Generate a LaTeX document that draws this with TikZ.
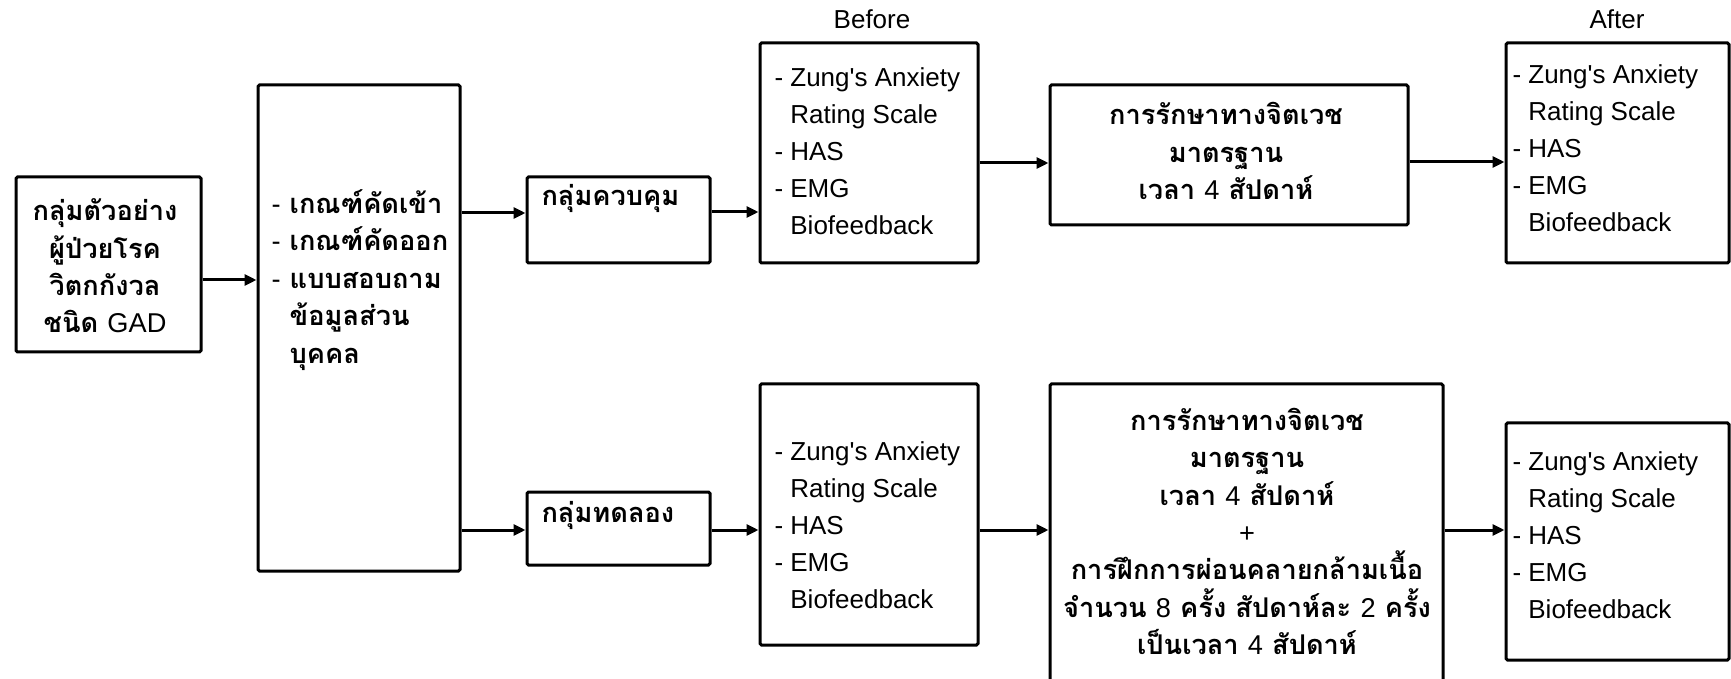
\documentclass[tikz,border=0pt]{standalone}
\usepackage{fontspec}
\setmainfont{Liberation Sans}
\newfontfamily\thaifont[Script=Thai]{Loma}
\newcommand\en[1]{{\normalfont#1}}
\usetikzlibrary{arrows.meta}
\begin{document}
\begin{tikzpicture}[x=0.5pt,y=-0.5pt,>={Triangle[length=6pt,width=5.5pt]},
  line width=1.5pt,
  box/.style={draw,rounded corners=0.8pt,inner sep=0pt},
  txt/.style={inner sep=0pt,font=\fontsize{13}{18.5}\selectfont},
  th/.style={inner sep=0pt,font=\fontsize{13.6}{18.7}\selectfont\thaifont\bfseries}]

  \path[use as bounding box,clip] (0,0) rectangle (1731,679);

  \node[box,minimum width=92.5pt,minimum height=87.5pt] (grp) at (108.5,264.5) {};
  \node[box,minimum width=101pt,minimum height=243pt] (crit) at (359,328) {};
  \node[box,minimum width=91.5pt,minimum height=43pt] (ctrl) at (618.5,220) {};
  \node[box,minimum width=91.5pt,minimum height=36.5pt] (exp) at (618.5,528.5) {};
  \node[box,minimum width=109pt,minimum height=110pt] (pre1) at (869,153) {};
  \node[box,minimum width=109pt,minimum height=130.5pt] (pre2) at (869,514.5) {};
  \node[box,minimum width=179pt,minimum height=70pt] (tx1) at (1229,155) {};
  \node[box,minimum width=196.5pt,minimum height=158pt] (tx2) at (1246.5,542) {};
  \node[box,minimum width=111.5pt,minimum height=110pt] (post1) at (1617.5,153) {};
  \node[box,minimum width=111.5pt,minimum height=118.5pt] (post2) at (1617.5,541.5) {};

  \node[txt] (before) at (872,19) {Before};
  \node[txt] (after) at (1617,19) {After};

  \node[th,align=center] (grptxt) at (105,266) {กลุ่มตัวอย่าง\\ผู้ป่วยโรค\\วิตกกังวล\\ชนิด \en{GAD}};
  \node[th,align=left,anchor=west] (crittxt) at (270,280)
    {\en{-} เกณฑ์คัดเข้า\\\en{-} เกณฑ์คัดออก\\\en{-} แบบสอบถาม\\\phantom{\en{-} }ข้อมูลส่วน\\\phantom{\en{-} }บุคคล};
  \node[th,anchor=west] (ctrltxt) at (540,198) {กลุ่มควบคุม};
  \node[th,anchor=west] (exptxt) at (540,515) {กลุ่มทดลอง};
  \node[txt,align=left,anchor=west] (pre1txt) at (773,151.5)
    {- Zung\textquotesingle s Anxiety\\\phantom{- }Rating Scale\\- HAS\\- EMG\\\phantom{- }Biofeedback};
  \node[txt,align=left,anchor=west] (pre2txt) at (773,525)
    {- Zung\textquotesingle s Anxiety\\\phantom{- }Rating Scale\\- HAS\\- EMG\\\phantom{- }Biofeedback};
  \node[txt,align=left,anchor=west] (post1txt) at (1511,148)
    {- Zung\textquotesingle s Anxiety\\\phantom{- }Rating Scale\\- HAS\\- EMG\\\phantom{- }Biofeedback};
  \node[txt,align=left,anchor=west] (post2txt) at (1511,535.5)
    {- Zung\textquotesingle s Anxiety\\\phantom{- }Rating Scale\\- HAS\\- EMG\\\phantom{- }Biofeedback};
  \node[th,align=center] (tx1txt) at (1226,151) {การรักษาทางจิตเวช\\มาตรฐาน\\เวลา \en{4} สัปดาห์};
  \node[th,align=center] (tx2txt) at (1247,531.5)
    {การรักษาทางจิตเวช\\มาตรฐาน\\เวลา \en{4} สัปดาห์\\\en{+}\\การฝึกการผ่อนคลายกล้ามเนื้อ\\จำนวน \en{8} ครั้ง สัปดาห์ละ \en{2} ครั้ง\\เป็นเวลา \en{4} สัปดาห์};

  \draw[->] (grp.east |- 0,280) -- (crit.west |- 0,280);
  \draw[->] (crit.east |- 0,213) -- (ctrl.west |- 0,213);
  \draw[->] (crit.east |- 0,530) -- (exp.west |- 0,530);
  \draw[->] (ctrl.east |- 0,212) -- (pre1.west |- 0,212);
  \draw[->] (exp.east |- 0,530) -- (pre2.west |- 0,530);
  \draw[->] (pre1.east |- 0,163) -- (tx1.west |- 0,163);
  \draw[->] (pre2.east |- 0,530) -- (tx2.west |- 0,530);
  \draw[->] (tx1.east |- 0,162) -- (post1.west |- 0,162);
  \draw[->] (tx2.east |- 0,530) -- (post2.west |- 0,530);
\end{tikzpicture}
\end{document}
